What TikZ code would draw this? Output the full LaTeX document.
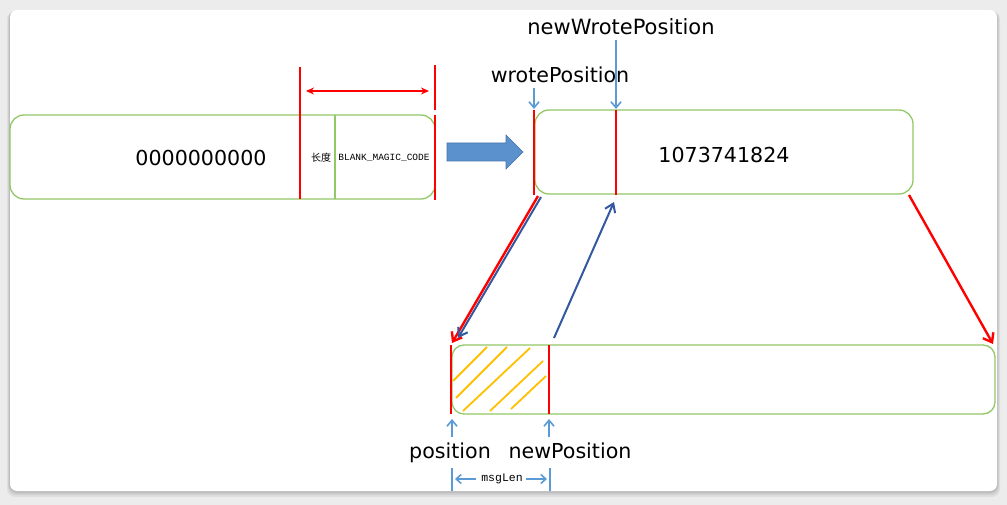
\documentclass[tikz,border=0pt]{standalone}
\usepackage{fontspec}
\setmainfont{DejaVu Sans}
\newfontfamily\cjk{Noto Sans CJK SC}
\newfontfamily\monof{Liberation Mono}
\usetikzlibrary{arrows.meta}
\definecolor{boxgreen}{RGB}{146,200,104}
\definecolor{myred}{RGB}{255,0,0}
\definecolor{lblue}{RGB}{91,155,213}
\definecolor{dblue}{RGB}{52,88,160}
\definecolor{hatch}{RGB}{255,192,0}
\definecolor{blkfill}{RGB}{91,146,205}
\definecolor{blkdraw}{RGB}{70,115,170}
\definecolor{bggray}{RGB}{236,236,236}
\tikzset{
  buf/.style={draw=boxgreen, line width=1.3pt, inner sep=0pt, fill=white},
  redmark/.style={draw=myred, line width=2.5pt},
  redarrow/.style={draw=myred, line width=2.4pt, -{Straight Barb[length=8pt,width=12pt]}},
  bluearrow/.style={draw=dblue, line width=2pt, -{Straight Barb[length=8pt,width=11pt]}},
  pointer/.style={draw=lblue, line width=1.6pt, -{Straight Barb[length=6pt,width=10pt]}},
  lbl/.style={inner sep=0pt, font=\fontsize{20.6}{24}\selectfont},
  hatchline/.style={draw=hatch, line width=1.8pt},
}
\begin{document}
\begin{tikzpicture}[x=1pt,y=-1pt]
\useasboundingbox (0,0) rectangle (1007,505);
% background and card
\fill[bggray] (0,0) rectangle (1007,505);
\foreach \o/\a in {6/0.05,4/0.07,2/0.09}{
  \fill[black, opacity=\a, rounded corners=8pt] (10-\o*0.5,10+\o*0.2) rectangle (997+\o*0.5,491+\o);
}
\fill[white, rounded corners=7pt] (10,10) rectangle (997,491);

% ---- left buffer
\node[buf, rounded corners=14pt, minimum width=425pt, minimum height=84pt] (leftbuf) at (222.5,157) {};
\node[lbl] (zeros) at (201,158) {0000000000};
\coordinate (lA1) at (300,67); \coordinate (lA2) at (300,199);
\coordinate (lB1) at (435,65); \coordinate (lB2) at (435,110);
\coordinate (lB3) at (435,115); \coordinate (lB4) at (435,200);
\coordinate (lG1) at (335,115); \coordinate (lG2) at (335,199);
\draw[draw=boxgreen, line width=2pt] (lG1) -- (lG2);
\draw[redmark] (lA1) -- (lA2);
\draw[redmark] (lB1) -- (lB2);
\draw[redmark] (lB3) -- (lB4);
\coordinate (dA) at (306,91); \coordinate (dB) at (429,91);
\draw[draw=myred, line width=2pt, {Stealth[length=8pt,width=7pt]}-{Stealth[length=8pt,width=7pt]}] (dA) -- (dB);
\node[inner sep=0pt, font=\cjk\fontsize{10}{11}\selectfont] (len) at (321,158) {长度};
\node[inner sep=0pt, font=\monof\fontsize{9.5}{11}\selectfont] (magic) at (384,158) {BLANK\_MAGIC\_CODE};

% ---- block arrow
\fill[blkfill, draw=blkdraw, line width=0.6pt] (447,143) -- (506,143) -- (506,135) -- (523,152) -- (506,169) -- (506,161) -- (447,161) -- cycle;

% ---- top-right buffer
\node[buf, rounded corners=14pt, minimum width=378pt, minimum height=84pt] (topbuf) at (724,152) {};
\node[lbl] (num) at (724,155) {1073741824};
\coordinate (tA1) at (534,110); \coordinate (tA2) at (534,195);
\coordinate (tB1) at (616,110); \coordinate (tB2) at (616,195);
\draw[redmark] (tA1) -- (tA2);
\draw[redmark] (tB1) -- (tB2);
\node[lbl] (wrote) at (560,75) {wrotePosition};
\node[lbl, font=\fontsize{21}{25}\selectfont] (newwrote) at (621,27) {newWrotePosition};
\coordinate (pw1) at (534,88); \coordinate (pw2) at (534,109);
\coordinate (pn1) at (616,40); \coordinate (pn2) at (616,109);
\draw[pointer] (pw1) -- (pw2);
\draw[pointer] (pn1) -- (pn2);

% ---- bottom buffer
\node[buf, rounded corners=12pt, minimum width=543pt, minimum height=69pt] (botbuf) at (723.5,379.5) {};
\coordinate (bA1) at (451,345); \coordinate (bA2) at (451,414);
\coordinate (bB1) at (549,345); \coordinate (bB2) at (549,414);
% hatch
\draw[hatchline] (453,381) -- (487,347);
\draw[hatchline] (456,398) -- (507,347);
\draw[hatchline] (463,411) -- (530,348);
\draw[hatchline] (490,411) -- (543,361);
\draw[hatchline] (511,409) -- (546,376);
\draw[redmark] (bA1) -- (bA2);
\draw[redmark] (bB1) -- (bB2);

% ---- slanted connectors
\coordinate (r1s) at (538,196); \coordinate (r1e) at (452,343);
\coordinate (b1s) at (541,197); \coordinate (b1e) at (458,338);
\coordinate (b2s) at (554,338); \coordinate (b2e) at (614,202);
\coordinate (r2s) at (909,195); \coordinate (r2e) at (993,344);
\draw[redarrow] (r1s) -- (r1e);
\draw[bluearrow] (b1s) -- (b1e);
\draw[bluearrow] (b2s) -- (b2e);
\draw[redarrow] (r2s) -- (r2e);

% ---- bottom labels
\coordinate (up1a) at (452,437); \coordinate (up1b) at (452,419);
\coordinate (up2a) at (549,437); \coordinate (up2b) at (549,419);
\draw[pointer] (up1a) -- (up1b);
\draw[pointer] (up2a) -- (up2b);
\node[lbl] (pos) at (450,453) {position};
\node[lbl] (newpos) at (570,451) {newPosition};
\coordinate (t1a) at (452,468); \coordinate (t1b) at (452,491);
\coordinate (t2a) at (550,468); \coordinate (t2b) at (550,491);
\draw[draw=lblue, line width=1.6pt] (t1a) -- (t1b);
\draw[draw=lblue, line width=1.6pt] (t2a) -- (t2b);
\node[inner sep=0pt, font=\monof\fontsize{11.5}{13}\selectfont] (msg) at (502,479) {msgLen};
\coordinate (m1) at (455,479); \coordinate (m2) at (547,479);
\draw[draw=lblue, line width=1.6pt, -{Straight Barb[length=5pt,width=9pt]}] ([xshift=-5pt]msg.west) -- (m1);
\draw[draw=lblue, line width=1.6pt, -{Straight Barb[length=5pt,width=9pt]}] ([xshift=3pt]msg.east) -- (m2);
\end{tikzpicture}
\end{document}
